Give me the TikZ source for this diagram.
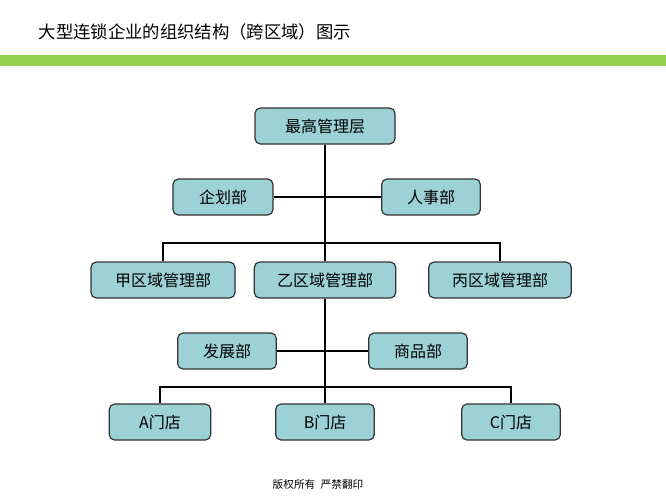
\documentclass[tikz,border=0pt]{standalone}
\usepackage{fontspec}
\setmainfont{Liberation Sans}
\newfontfamily\cjk{Noto Sans CJK SC}
\usetikzlibrary{positioning}
\definecolor{boxfill}{HTML}{9CD2D6}
\definecolor{barGreen}{HTML}{92D050}
\tikzset{
  unit/.style={draw=black!80, fill=boxfill, rounded corners=4pt, line width=0.9pt,
    minimum height=27pt, inner sep=0pt, font=\cjk\fontsize{12}{14}\selectfont},
  link/.style={line width=0.9pt}
}
\begin{document}
\begin{tikzpicture}[x=0.75pt,y=-0.75pt]
    \useasboundingbox (0,0) rectangle (666,500);
    % Title and bar
    \node[anchor=west, font=\cjk\fontsize{13}{15}\selectfont] (title) at (34,32) {大型连锁企业的组织结构（跨区域）图示};
    \fill[barGreen] (0,55) rectangle (666,66);

    % Units
    \node[unit, minimum width=105pt] (top) at (325,126) {最高管理层};
    \node[unit, minimum width=75pt] (plan) at (223,197) {企划部};
    \node[unit, minimum width=74pt] (hr) at (431,197) {人事部};
    \node[unit, minimum width=108pt] (rega) at (163,280) {甲区域管理部};
    \node[unit, minimum width=106pt] (regb) at (325,280) {乙区域管理部};
    \node[unit, minimum width=107pt] (regc) at (500,280) {丙区域管理部};
    \node[unit, minimum width=74pt] (dev) at (227,351) {发展部};
    \node[unit, minimum width=74pt] (goods) at (418,351) {商品部};
    \node[unit, minimum width=76pt] (shopa) at (160,422) {A门店};
    \node[unit, minimum width=74pt] (shopb) at (325,422) {B门店};
    \node[unit, minimum width=74pt] (shopc) at (511,422) {C门店};

    % Links
    \coordinate (busa) at (325,243);
    \coordinate (busb) at (325,387);
    \draw[link] (top) -- (regb);
    \draw[link] (plan) -- (plan -| top);
    \draw[link] (hr) -- (hr -| top);
    \draw[link] (rega) |- (busa) -| (regc);
    \draw[link] (regb) -- (shopb);
    \draw[link] (dev) -- (dev -| regb);
    \draw[link] (goods) -- (goods -| regb);
    \draw[link] (shopa) |- (busb) -| (shopc);

    % Footer
    \node[font=\cjk\fontsize{8}{10}\selectfont] (foot) at (318,484) {版权所有\enspace 严禁翻印};
\end{tikzpicture}
\end{document}
